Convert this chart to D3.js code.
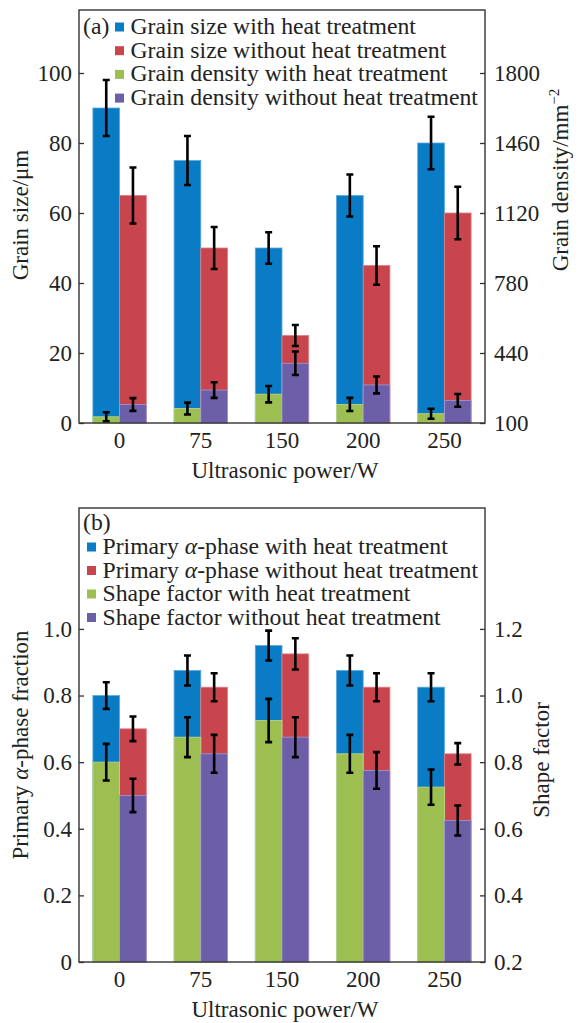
<!DOCTYPE html>
<html>
<head>
	<meta charset="utf-8">
	<title></title>
	<style>
		body { margin: 0; background: #fff; }
		svg text { font-family: "Liberation Serif", "DejaVu Serif", serif; font-size: 23px; fill: #222; }
		svg text.leg { font-size: 23.7px; }
	</style>
</head>
<body>
	<svg id="container" width="579" height="1023"></svg>
</body>
<script src="https://d3js.org/d3.v7.min.js"></script>
<script>
	// x categories (ultrasonic power, W)
	let powers = ["0", "75", "150", "200", "250"]

	// panel (a): grain size (left axis, um) and grain density (right axis, mm^-2)
	let sizeHT = [90, 75, 50, 65, 80]
	let sizeHTErr = [8, 7, 4.5, 6, 7.5]
	let sizeNoHT = [65, 50, 25, 45, 60]
	let sizeNoHTErr = [8, 6, 3, 5.5, 7.5]
	let densHT = [130, 170, 240, 190, 145]
	let densHTErr = [22, 29, 40, 32, 24]
	let densNoHT = [190, 260, 390, 285, 210]
	let densNoHTErr = [31, 38, 57, 41, 31]
	let sizeTicks = [0, 20, 40, 60, 80, 100]
	let densTicks = [100, 440, 780, 1120, 1460, 1800]
	let legendA = ["Grain size with heat treatment", "Grain size without heat treatment",
		"Grain density with heat treatment", "Grain density without heat treatment"]

	// panel (b): primary alpha-phase fraction (left) and shape factor (right)
	let alphaHT = [0.8, 0.875, 0.95, 0.875, 0.825]
	let alphaHTErr = [0.04, 0.045, 0.045, 0.045, 0.042]
	let alphaNoHT = [0.7, 0.825, 0.925, 0.825, 0.625]
	let alphaNoHTErr = [0.037, 0.042, 0.047, 0.042, 0.032]
	let shapeHT = [0.8, 0.875, 0.925, 0.825, 0.725]
	let shapeHTErr = [0.055, 0.06, 0.065, 0.057, 0.053]
	let shapeNoHT = [0.7, 0.825, 0.875, 0.775, 0.625]
	let shapeNoHTErr = [0.05, 0.057, 0.06, 0.055, 0.045]
	let alphaTicks = [0, 0.2, 0.4, 0.6, 0.8, 1.0]
	let shapeTicks = [0.2, 0.4, 0.6, 0.8, 1.0, 1.2]
	let legendB = ["Primary α-phase with heat treatment", "Primary α-phase without heat treatment",
		"Shape factor with heat treatment", "Shape factor without heat treatment"]

	let colors = ["#0a7cc6", "#c9454d", "#9dbe51", "#6c5fa8"]
	let edges = ["#5aa9dd", "#e07d83", "#c3da8a", "#a49ad0"]

	let svg = d3.select("#container")
	let left = 79, right = 485
	let serif = "'Liberation Serif', 'DejaVu Serif', serif"

	function addText(sel, str) {
		// italic greek alpha inside a label
		let parts = str.split("α")
		parts.forEach((p, i) => {
			if (i > 0) sel.append("tspan").style("font-style", "italic").text("α")
			sel.append("tspan").text(p)
		})
	}

	function drawPanel(p) {
		let g = svg.append("g")

		let x0 = d3.scaleBand().domain(powers).range([left, right])
		let x1 = d3.scaleBand().domain([0, 1]).range([0, x0.bandwidth()]).paddingOuter(0.52)
		let yL = d3.scaleLinear().domain(p.leftDomain).range([p.bottom, p.top])
		let yR = d3.scaleLinear().domain(p.rightDomain).range([p.bottom, p.top])

		let series = [
			{ vals: p.s[0], err: p.e[0], y: yL, k: 0 },
			{ vals: p.s[1], err: p.e[1], y: yL, k: 1 },
			{ vals: p.s[2], err: p.e[2], y: yR, k: 0 },
			{ vals: p.s[3], err: p.e[3], y: yR, k: 1 }
		]

		series.forEach((s, si) => {
			g.selectAll(null)
				.data(s.vals)
				.enter().append("rect")
				.attr("x", (d, i) => x0(powers[i]) + x1(s.k))
				.attr("width", x1.bandwidth())
				.attr("y", d => s.y(d))
				.attr("height", d => p.bottom - s.y(d))
				.attr("fill", colors[si])
				.attr("stroke", edges[si])
				.attr("stroke-width", 0.8)
		})

		// error bars on top of every bar
		series.forEach(s => {
			g.selectAll(null)
				.data(s.vals)
				.enter().append("path")
				.attr("d", (d, i) => {
					let cx = x0(powers[i]) + x1(s.k) + x1.bandwidth() / 2
					let t = s.y(d + s.err[i]), b = s.y(d - s.err[i])
					return `M${cx - 3.5},${t}H${cx + 3.5}M${cx},${t}V${b}M${cx - 3.5},${b}H${cx + 3.5}`
				})
				.attr("stroke", "#000")
				.attr("stroke-width", 2.6)
				.attr("fill", "none")
		})

		let ax = g.append("g").attr("transform", `translate(${left},0)`)
			.call(d3.axisLeft(yL).tickValues(p.leftTicks).tickFormat(p.leftFmt)
				.tickSizeInner(-5).tickSizeOuter(0).tickPadding(7))
		let axR = g.append("g").attr("transform", `translate(${right},0)`)
			.call(d3.axisRight(yR).tickValues(p.rightTicks).tickFormat(p.rightFmt)
				.tickSizeInner(-5).tickSizeOuter(0).tickPadding(9))
		let axB = g.append("g").attr("transform", `translate(0,${p.bottom})`)
			.call(d3.axisBottom(x0).tickSize(0).tickPadding(9))
		;[ax, axR, axB].forEach(a => {
			a.attr("font-size", 23).attr("font-family", serif).style("color", "#333")
			a.select(".domain").remove()
			a.selectAll(".tick line").attr("stroke-width", 1.3)
		})

		g.append("rect")
			.attr("x", left).attr("y", p.top)
			.attr("width", right - left).attr("height", p.bottom - p.top)
			.attr("fill", "none").attr("stroke", "#333").attr("stroke-width", 1.4)

		// panel letter + legend
		g.append("text").attr("class", "leg").attr("x", 83).attr("y", p.legTop).text(p.letter)
		p.legend.forEach((name, i) => {
			let yy = p.legTop + p.legRow + i * p.legStep
			g.append("rect")
				.attr("x", p.legX).attr("y", yy - 11.5)
				.attr("width", 9).attr("height", 9)
				.attr("fill", colors[i])
			addText(g.append("text").attr("class", "leg").attr("x", p.legX + 15.5).attr("y", yy), name)
		})

		// axis titles
		addText(g.append("text")
			.attr("transform", `translate(28,${p.leftTitleY}) rotate(-90)`)
			.attr("text-anchor", "middle"), p.leftTitle)
		let rt = g.append("text")
			.attr("transform", `translate(${p.rightTitleX},${p.rightTitleY}) rotate(-90)`)
			.attr("text-anchor", "middle")
			.text(p.rightTitle)
		if (p.rightSup) {
			rt.append("tspan").attr("dy", -9).style("font-size", "15px").text(p.rightSup)
		}
		g.append("text")
			.attr("x", 285).attr("y", p.bottom + 55)
			.attr("text-anchor", "middle")
			.text("Ultrasonic power/W")
	}

	drawPanel({
		letter: "(a)", top: 10, bottom: 423,
		leftDomain: [0, 118], rightDomain: [100, 100 + 118 * 17],
		s: [sizeHT, sizeNoHT, densHT, densNoHT],
		e: [sizeHTErr, sizeNoHTErr, densHTErr, densNoHTErr],
		leftTicks: sizeTicks, rightTicks: densTicks,
		leftFmt: d3.format("d"), rightFmt: d3.format("d"),
		legend: legendA, legTop: 34, legRow: 0, legStep: 23.7, legX: 115,
		leftTitle: "Grain size/μm", leftTitleY: 215,
		rightTitle: "Grain density/mm", rightSup: "−2", rightTitleX: 568, rightTitleY: 180
	})

	drawPanel({
		letter: "(b)", top: 508, bottom: 962,
		leftDomain: [0, 1.363], rightDomain: [0.2, 1.563],
		s: [alphaHT, alphaNoHT, shapeHT, shapeNoHT],
		e: [alphaHTErr, alphaNoHTErr, shapeHTErr, shapeNoHTErr],
		leftTicks: alphaTicks, rightTicks: shapeTicks,
		leftFmt: d => d === 0 ? "0" : d3.format(".1f")(d), rightFmt: d3.format(".1f"),
		legend: legendB, legTop: 530, legRow: 24, legStep: 23.5, legX: 87,
		leftTitle: "Primary α-phase fraction", leftTitleY: 745,
		rightTitle: "Shape factor", rightTitleX: 549, rightTitleY: 760
	})
</script>
</html>
